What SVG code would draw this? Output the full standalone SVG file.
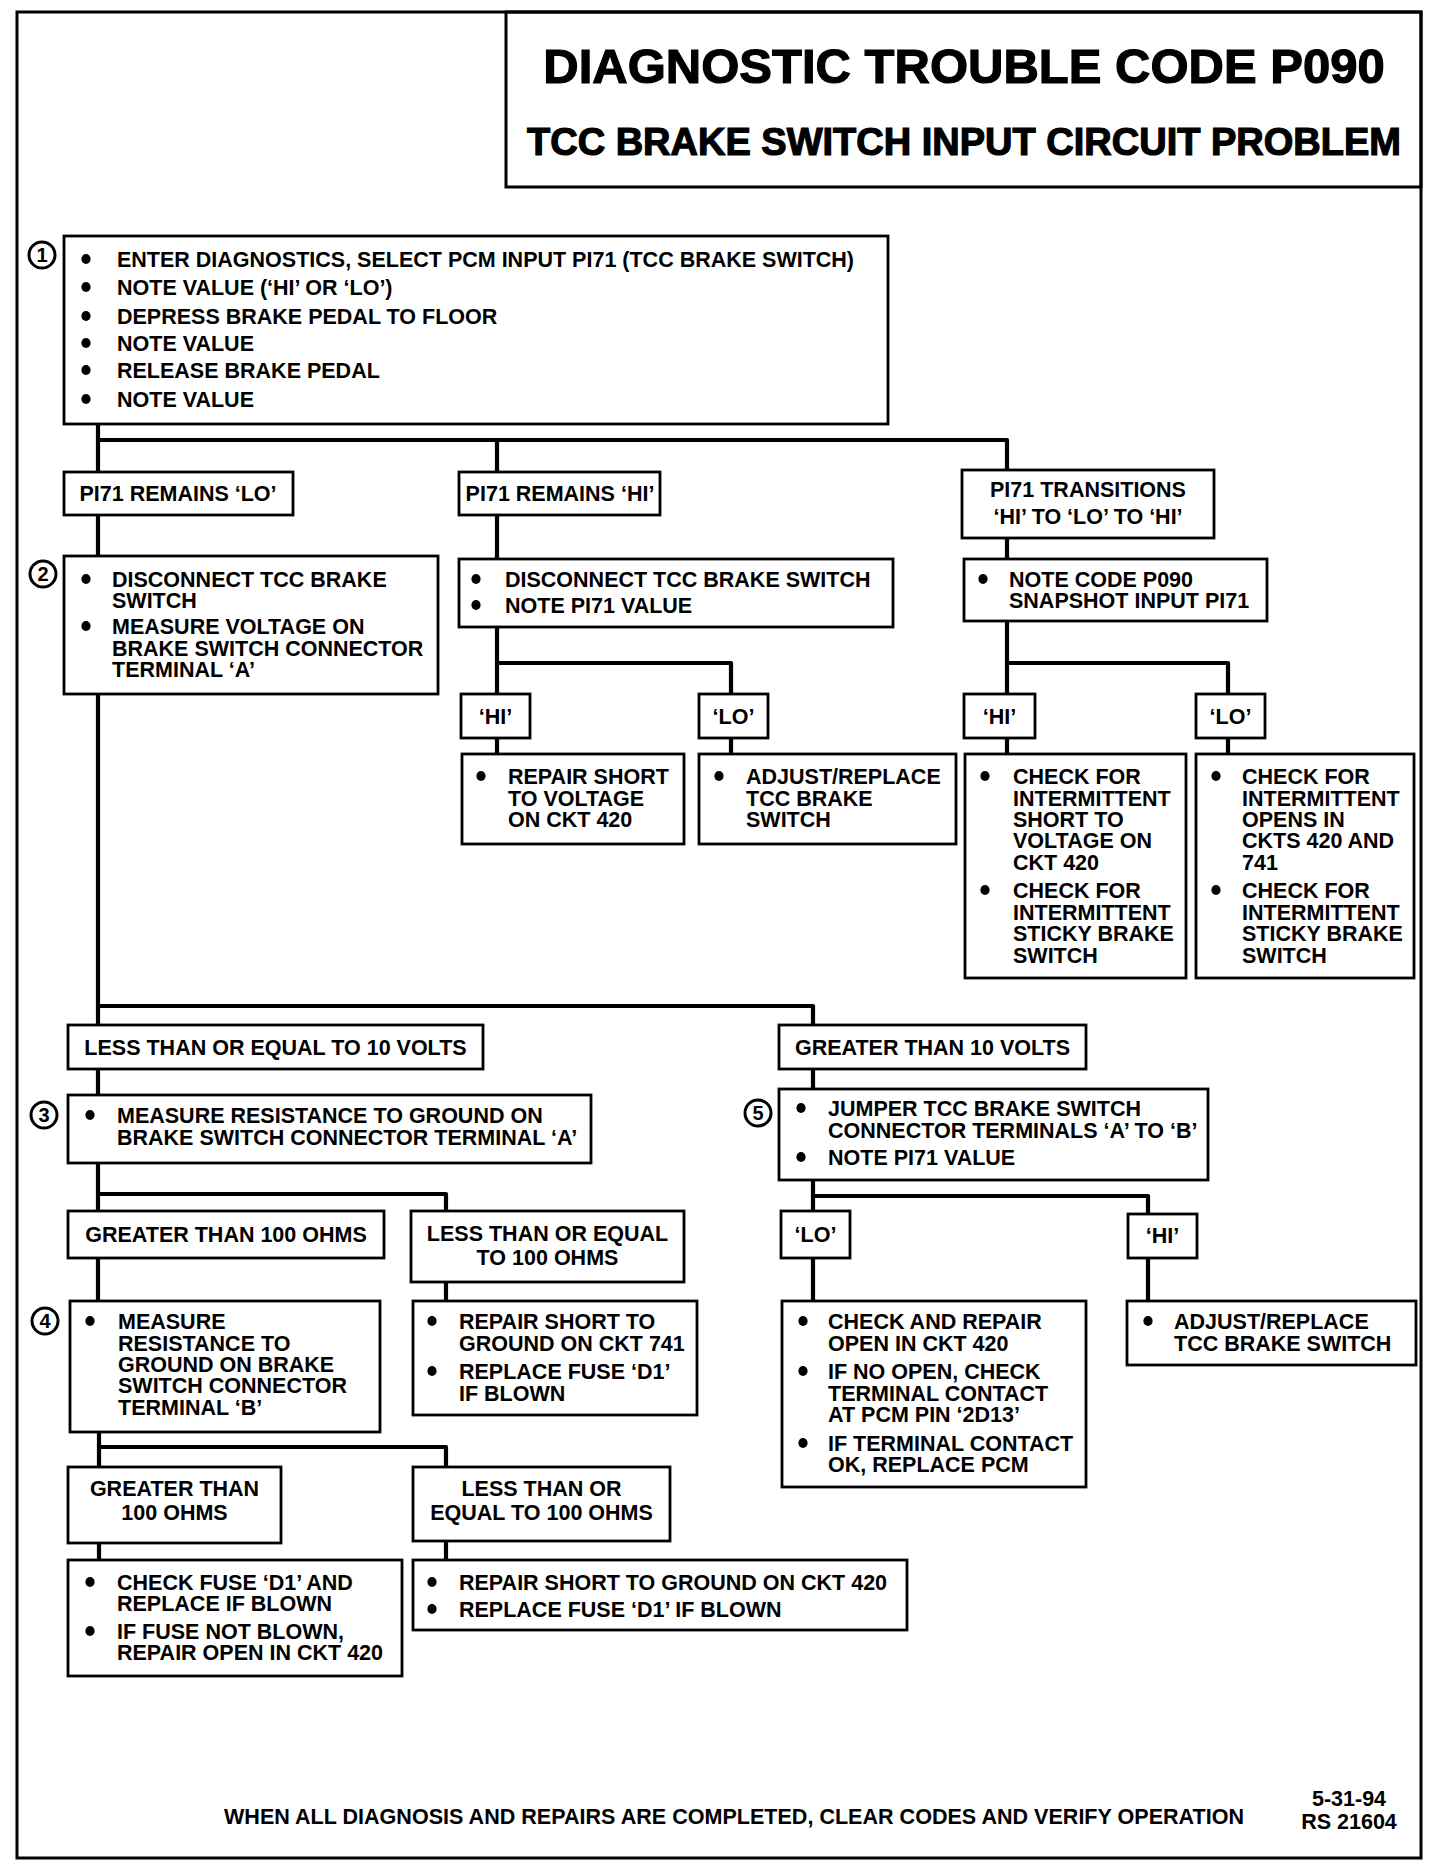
<svg xmlns="http://www.w3.org/2000/svg" width="1440" height="1870" viewBox="0 0 1440 1870">
<style>
.bg{fill:#fff}
.frame{fill:none;stroke:#000;stroke-width:3}
.box{fill:#fff;stroke:#000;stroke-width:2.8}
.wire{fill:none;stroke:#000;stroke-width:4.2;stroke-linejoin:round;stroke-linecap:square}
.t{font-family:"Liberation Sans",Arial,Helvetica,sans-serif;font-weight:bold;font-size:21.5px;fill:#000}
.c{text-anchor:middle}
.h{stroke:#000;stroke-width:1.2}
.num{font-family:"Liberation Sans",Arial,sans-serif;font-weight:bold;font-size:20px;text-anchor:middle;fill:#000}
.ring{fill:#fff;stroke:#000;stroke-width:3}
.dot{fill:#000}
</style>
<defs>
<ellipse id="b" rx="4.6" ry="5" class="dot"/>
</defs>
<rect class="bg" x="0" y="0" width="1440" height="1870"/>
<rect class="frame" x="17" y="12" width="1404" height="1846"/>

<g id="title">
<rect class="frame" x="506" y="12" width="915" height="175"/>
<text class="t c h" x="964" y="83" style="font-size:49px">DIAGNOSTIC TROUBLE CODE P090</text>
<text class="t c h" x="964" y="155" style="font-size:38px">TCC BRAKE SWITCH INPUT CIRCUIT PROBLEM</text>
</g>

<g id="connectors">
<path class="wire" d="M98 424 V472 M98 440 H1007 V470 M497 440 V472"/>
<path class="wire" d="M98 515 V556 M497 515 V559 M1007 538 V559"/>
<path class="wire" d="M497 627 V694 M497 663 H731 V694 M497 738 V754 M731 738 V754"/>
<path class="wire" d="M1007 621 V694 M1007 663 H1228 V694 M1007 738 V754 M1228 738 V754"/>
<path class="wire" d="M98 694 V1025 M98 1006 H813 V1025"/>
<path class="wire" d="M98 1069 V1095 M98 1163 V1211 M98 1194 H446 V1211 M98 1258 V1301 M446 1282 V1301"/>
<path class="wire" d="M99 1432 V1467 M99 1447 H446 V1467 M99 1543 V1560 M446 1541 V1560"/>
<path class="wire" d="M813 1069 V1089 M813 1180 V1211 M813 1196 H1148 V1214 M813 1258 V1301 M1148 1258 V1301"/>
</g>

<g id="n1">
<rect class="box" x="64" y="236" width="824" height="188"/>
<circle class="ring" cx="42" cy="255" r="13"/><text class="num" x="42" y="262">1</text>
<use href="#b" x="86" y="259"/><text class="t" x="117" y="267">ENTER DIAGNOSTICS, SELECT PCM INPUT PI71 (TCC BRAKE SWITCH)</text>
<use href="#b" x="86" y="287"/><text class="t" x="117" y="295">NOTE VALUE (‘HI’ OR ‘LO’)</text>
<use href="#b" x="86" y="316"/><text class="t" x="117" y="324">DEPRESS BRAKE PEDAL TO FLOOR</text>
<use href="#b" x="86" y="343"/><text class="t" x="117" y="351">NOTE VALUE</text>
<use href="#b" x="86" y="370"/><text class="t" x="117" y="378">RELEASE BRAKE PEDAL</text>
<use href="#b" x="86" y="399"/><text class="t" x="117" y="407">NOTE VALUE</text>
</g>

<g id="remLo">
<rect class="box" x="64" y="472" width="229" height="43"/>
<text class="t c" x="178" y="501">PI71 REMAINS ‘LO’</text>
</g>
<g id="remHi">
<rect class="box" x="459" y="472" width="201" height="43"/>
<text class="t c" x="560" y="501">PI71 REMAINS ‘HI’</text>
</g>
<g id="trans">
<rect class="box" x="962" y="470" width="252" height="68"/>
<text class="t c" x="1088" y="497">PI71 TRANSITIONS</text>
<text class="t c" x="1088" y="524">‘HI’ TO ‘LO’ TO ‘HI’</text>
</g>

<g id="n2">
<rect class="box" x="64" y="556" width="374" height="138"/>
<circle class="ring" cx="43" cy="574" r="13"/><text class="num" x="43" y="581">2</text>
<use href="#b" x="86" y="579"/><text class="t" x="112" y="587">DISCONNECT TCC BRAKE</text>
<text class="t" x="112" y="608">SWITCH</text>
<use href="#b" x="86" y="626"/><text class="t" x="112" y="634">MEASURE VOLTAGE ON</text>
<text class="t" x="112" y="656">BRAKE SWITCH CONNECTOR</text>
<text class="t" x="112" y="677">TERMINAL ‘A’</text>
</g>

<g id="disc">
<rect class="box" x="459" y="559" width="434" height="68"/>
<use href="#b" x="476" y="579"/><text class="t" x="505" y="587">DISCONNECT TCC BRAKE SWITCH</text>
<use href="#b" x="476" y="605"/><text class="t" x="505" y="613">NOTE PI71 VALUE</text>
</g>

<g id="noteCode">
<rect class="box" x="964" y="559" width="303" height="62"/>
<use href="#b" x="983" y="579"/><text class="t" x="1009" y="587">NOTE CODE P090</text>
<text class="t" x="1009" y="608">SNAPSHOT INPUT PI71</text>
</g>

<g id="hi1"><rect class="box" x="461" y="694" width="69" height="44"/><text class="t c" x="495.5" y="724">‘HI’</text></g>
<g id="lo1"><rect class="box" x="699" y="694" width="69" height="44"/><text class="t c" x="733.5" y="724">‘LO’</text></g>
<g id="hi2"><rect class="box" x="964" y="694" width="71" height="44"/><text class="t c" x="999.5" y="724">‘HI’</text></g>
<g id="lo2"><rect class="box" x="1196" y="694" width="69" height="44"/><text class="t c" x="1230.5" y="724">‘LO’</text></g>

<g id="repVolt">
<rect class="box" x="462" y="754" width="222" height="90"/>
<use href="#b" x="481" y="776"/><text class="t" x="508" y="784">REPAIR SHORT</text>
<text class="t" x="508" y="806">TO VOLTAGE</text>
<text class="t" x="508" y="827">ON CKT 420</text>
</g>
<g id="adj1">
<rect class="box" x="699" y="754" width="257" height="90"/>
<use href="#b" x="719" y="776"/><text class="t" x="746" y="784">ADJUST/REPLACE</text>
<text class="t" x="746" y="806">TCC BRAKE</text>
<text class="t" x="746" y="827">SWITCH</text>
</g>
<g id="chk1">
<rect class="box" x="965" y="754" width="221" height="224"/>
<use href="#b" x="985" y="776"/><text class="t" x="1013" y="784">CHECK FOR</text>
<text class="t" x="1013" y="806">INTERMITTENT</text>
<text class="t" x="1013" y="827">SHORT TO</text>
<text class="t" x="1013" y="848">VOLTAGE ON</text>
<text class="t" x="1013" y="870">CKT 420</text>
<use href="#b" x="985" y="890"/><text class="t" x="1013" y="898">CHECK FOR</text>
<text class="t" x="1013" y="920">INTERMITTENT</text>
<text class="t" x="1013" y="941">STICKY BRAKE</text>
<text class="t" x="1013" y="963">SWITCH</text>
</g>
<g id="chk2">
<rect class="box" x="1196" y="754" width="218" height="224"/>
<use href="#b" x="1216" y="776"/><text class="t" x="1242" y="784">CHECK FOR</text>
<text class="t" x="1242" y="806">INTERMITTENT</text>
<text class="t" x="1242" y="827">OPENS IN</text>
<text class="t" x="1242" y="848">CKTS 420 AND</text>
<text class="t" x="1242" y="870">741</text>
<use href="#b" x="1216" y="890"/><text class="t" x="1242" y="898">CHECK FOR</text>
<text class="t" x="1242" y="920">INTERMITTENT</text>
<text class="t" x="1242" y="941">STICKY BRAKE</text>
<text class="t" x="1242" y="963">SWITCH</text>
</g>

<g id="le10"><rect class="box" x="68" y="1025" width="415" height="44"/><text class="t c" x="275.5" y="1055">LESS THAN OR EQUAL TO 10 VOLTS</text></g>
<g id="gt10"><rect class="box" x="779" y="1025" width="307" height="44"/><text class="t c" x="932.5" y="1055">GREATER THAN 10 VOLTS</text></g>

<g id="n3">
<rect class="box" x="68" y="1095" width="523" height="68"/>
<circle class="ring" cx="44" cy="1115" r="13"/><text class="num" x="44" y="1122">3</text>
<use href="#b" x="90" y="1115"/><text class="t" x="117" y="1123">MEASURE RESISTANCE TO GROUND ON</text>
<text class="t" x="117" y="1145">BRAKE SWITCH CONNECTOR TERMINAL ‘A’</text>
</g>

<g id="n5">
<rect class="box" x="779" y="1089" width="429" height="91"/>
<circle class="ring" cx="758" cy="1113" r="13"/><text class="num" x="758" y="1120">5</text>
<use href="#b" x="801" y="1108"/><text class="t" x="828" y="1116">JUMPER TCC BRAKE SWITCH</text>
<text class="t" x="828" y="1138">CONNECTOR TERMINALS ‘A’ TO ‘B’</text>
<use href="#b" x="801" y="1157"/><text class="t" x="828" y="1165">NOTE PI71 VALUE</text>
</g>

<g id="gt100"><rect class="box" x="68" y="1211" width="316" height="47"/><text class="t c" x="226" y="1242">GREATER THAN 100 OHMS</text></g>
<g id="le100">
<rect class="box" x="411" y="1211" width="273" height="71"/>
<text class="t c" x="547.5" y="1241">LESS THAN OR EQUAL</text>
<text class="t c" x="547.5" y="1265">TO 100 OHMS</text>
</g>
<g id="lo3"><rect class="box" x="781" y="1211" width="69" height="47"/><text class="t c" x="815.5" y="1242">‘LO’</text></g>
<g id="hi3"><rect class="box" x="1128" y="1214" width="69" height="44"/><text class="t c" x="1162.5" y="1243">‘HI’</text></g>

<g id="n4">
<rect class="box" x="70" y="1301" width="310" height="131"/>
<circle class="ring" cx="45" cy="1321" r="13"/><text class="num" x="45" y="1328">4</text>
<use href="#b" x="90" y="1321"/><text class="t" x="118" y="1329">MEASURE</text>
<text class="t" x="118" y="1351">RESISTANCE TO</text>
<text class="t" x="118" y="1372">GROUND ON BRAKE</text>
<text class="t" x="118" y="1393">SWITCH CONNECTOR</text>
<text class="t" x="118" y="1415">TERMINAL ‘B’</text>
</g>
<g id="rep741">
<rect class="box" x="413" y="1301" width="284" height="114"/>
<use href="#b" x="432" y="1321"/><text class="t" x="459" y="1329">REPAIR SHORT TO</text>
<text class="t" x="459" y="1351">GROUND ON CKT 741</text>
<use href="#b" x="432" y="1371"/><text class="t" x="459" y="1379">REPLACE FUSE ‘D1’</text>
<text class="t" x="459" y="1401">IF BLOWN</text>
</g>
<g id="open420">
<rect class="box" x="782" y="1301" width="304" height="186"/>
<use href="#b" x="803" y="1321"/><text class="t" x="828" y="1329">CHECK AND REPAIR</text>
<text class="t" x="828" y="1351">OPEN IN CKT 420</text>
<use href="#b" x="803" y="1371"/><text class="t" x="828" y="1379">IF NO OPEN, CHECK</text>
<text class="t" x="828" y="1401">TERMINAL CONTACT</text>
<text class="t" x="828" y="1422">AT PCM PIN ‘2D13’</text>
<use href="#b" x="803" y="1443"/><text class="t" x="828" y="1451">IF TERMINAL CONTACT</text>
<text class="t" x="828" y="1472">OK, REPLACE PCM</text>
</g>
<g id="adj2">
<rect class="box" x="1127" y="1301" width="289" height="64"/>
<use href="#b" x="1148" y="1321"/><text class="t" x="1174" y="1329">ADJUST/REPLACE</text>
<text class="t" x="1174" y="1351">TCC BRAKE SWITCH</text>
</g>

<g id="gt100b">
<rect class="box" x="68" y="1467" width="213" height="76"/>
<text class="t c" x="174.5" y="1496">GREATER THAN</text>
<text class="t c" x="174.5" y="1520">100 OHMS</text>
</g>
<g id="le100b">
<rect class="box" x="413" y="1467" width="257" height="74"/>
<text class="t c" x="541.5" y="1496">LESS THAN OR</text>
<text class="t c" x="541.5" y="1520">EQUAL TO 100 OHMS</text>
</g>

<g id="fuse">
<rect class="box" x="68" y="1560" width="334" height="116"/>
<use href="#b" x="90" y="1582"/><text class="t" x="117" y="1590">CHECK FUSE ‘D1’ AND</text>
<text class="t" x="117" y="1611">REPLACE IF BLOWN</text>
<use href="#b" x="90" y="1631"/><text class="t" x="117" y="1639">IF FUSE NOT BLOWN,</text>
<text class="t" x="117" y="1660">REPAIR OPEN IN CKT 420</text>
</g>
<g id="rep420">
<rect class="box" x="413" y="1560" width="494" height="70"/>
<use href="#b" x="432" y="1582"/><text class="t" x="459" y="1590">REPAIR SHORT TO GROUND ON CKT 420</text>
<use href="#b" x="432" y="1609"/><text class="t" x="459" y="1617">REPLACE FUSE ‘D1’ IF BLOWN</text>
</g>

<g id="footer">
<text class="t" x="224" y="1824" textLength="1020" lengthAdjust="spacingAndGlyphs">WHEN ALL DIAGNOSIS AND REPAIRS ARE COMPLETED, CLEAR CODES AND VERIFY OPERATION</text>
<text class="t c" x="1349" y="1806">5-31-94</text>
<text class="t c" x="1349" y="1829">RS 21604</text>
</g>
</svg>
